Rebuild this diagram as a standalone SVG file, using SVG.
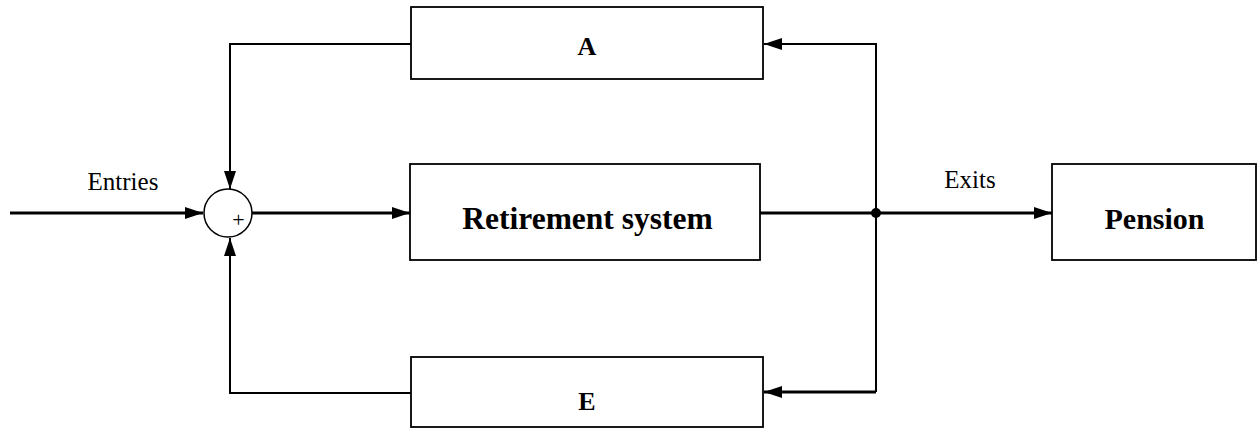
<svg xmlns="http://www.w3.org/2000/svg" width="1258" height="429" viewBox="0 0 1258 429">
<style>
.box{fill:#fff;stroke:#000;stroke-width:1.8}
.thick{fill:none;stroke:#000;stroke-width:3}
.thin{fill:none;stroke:#000;stroke-width:2}
.lbl{font-family:"Liberation Serif",serif;font-size:25px;fill:#000;text-anchor:middle}
.big{font-family:"Liberation Serif",serif;font-weight:bold;fill:#000;text-anchor:middle}
.sm{font-family:"Liberation Serif",serif;font-size:26px;font-weight:bold;fill:#000;text-anchor:middle}
</style>
<defs>
<marker id="ah" markerWidth="18" markerHeight="12" refX="18" refY="6" orient="auto" markerUnits="userSpaceOnUse">
<path d="M0,0 L18,6 L0,12 Z" fill="#000"/>
</marker>
</defs>
<g id="connectors">
<path class="thick" d="M10,213 L203,213" marker-end="url(#ah)"/>
<path class="thick" d="M252,213 L410,213" marker-end="url(#ah)"/>
<path class="thick" d="M760,213 L1052,213" marker-end="url(#ah)"/>
<path class="thin" d="M876,213 L876,44 L764,44" marker-end="url(#ah)"/>
<path class="thin" d="M876,213 L876,392" />
<path class="thick" d="M876,392 L764,392" marker-end="url(#ah)"/>
<path class="thin" d="M411,44 L230,44 L230,189" marker-end="url(#ah)"/>
<path class="thin" d="M411,393 L230,393 L230,238" marker-end="url(#ah)"/>
<circle cx="876" cy="213" r="5" fill="#000"/>
<text class="lbl" x="123" y="190">Entries</text>
<text class="lbl" x="970" y="188">Exits</text>
</g>
<g id="sum">
<circle cx="228" cy="213" r="24" fill="#fff" stroke="#000" stroke-width="1.5"/>
<text x="238.5" y="227" font-family="Liberation Serif,serif" font-size="22" text-anchor="middle">+</text>
</g>
<g id="nodeA">
<rect class="box" x="411" y="7" width="352" height="72"/>
<text class="sm" x="587" y="55">A</text>
</g>
<g id="retirement">
<rect class="box" x="410" y="164" width="350" height="96"/>
<text class="big" x="587.5" y="229" font-size="31.5">Retirement system</text>
</g>
<g id="pension">
<rect class="box" x="1052" y="164" width="204" height="96"/>
<text class="big" x="1154.5" y="229" font-size="30">Pension</text>
</g>
<g id="nodeE">
<rect class="box" x="411" y="357" width="352" height="70"/>
<text class="sm" x="587" y="410">E</text>
</g>
</svg>
